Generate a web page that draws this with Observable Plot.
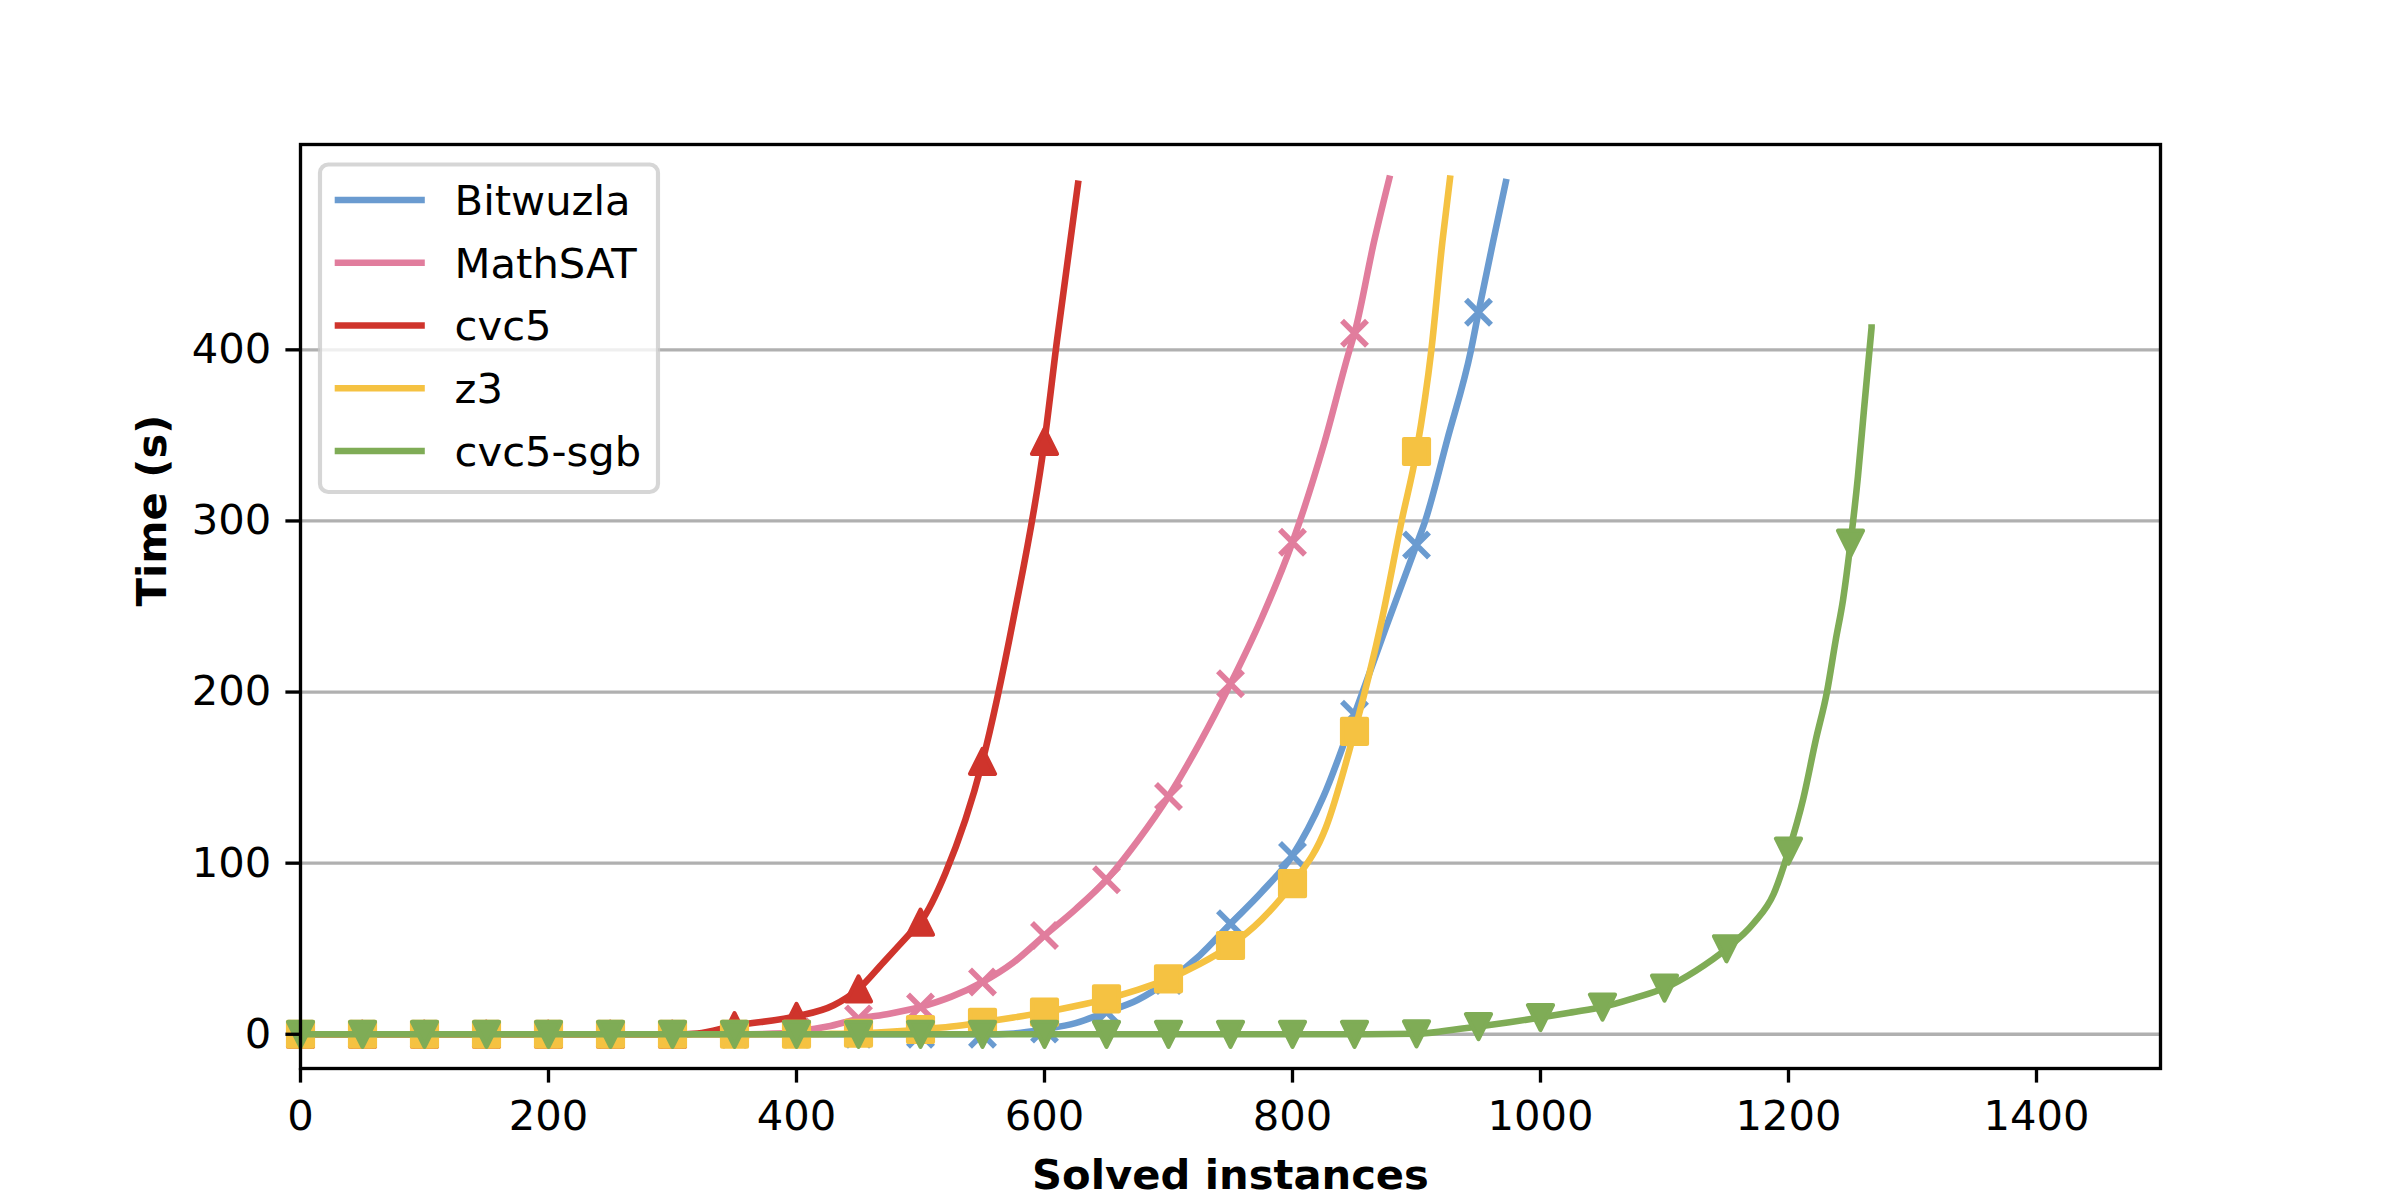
<!DOCTYPE html>
<html>
<head>
<meta charset="utf-8">
<script src="https://cdn.jsdelivr.net/npm/d3@7"></script>
<script src="https://cdn.jsdelivr.net/npm/@observablehq/plot@0.6"></script>
<style>
  html, body { margin: 0; padding: 0; background: #ffffff; overflow: hidden; }
  #chart svg { display: block; }
</style>
</head>
<body>
<div id="chart"></div>
<script>
// ---- Data ----
const seriesNames = ["Bitwuzla", "MathSAT", "cvc5", "z3", "cvc5-sgb"];
const seriesColors = ["#6a9bd0", "#e17d9d", "#cf342c", "#f5c242", "#7fac56"];

const bitwuzlaX = [0,50,100,150,200,250,300,350,400,450,500,550,575,600,625,650,675,700,725,750,775,800,825,850,875,900,907,925,944,950,962,972];
const bitwuzlaY = [0,0,0,0,0,0,0,0,0,0,0,0,0.5,3,6.5,13,20,31.4,46,64.6,83,104.5,139,187,237,286,300,348,400,422,464,498];

const mathsatX = [0,50,100,150,200,250,300,350,390,400,425,450,475,500,525,550,575,600,625,650,675,700,725,750,775,800,825,846,850,866,878];
const mathsatY = [0,0,0,0,0,0,0,0,0.5,1.5,4.5,9,12,16,22,30.5,42,57.7,73,90.3,113,139,170,204.8,243,287.6,344,400,409.7,464,500];

const cvc5X = [0,50,100,150,200,250,300,320,350,400,430,450,470,490,500,520,550,575,600,610,627];
const cvc5Y = [0,0,0,0,0,0,0,0.5,5,10.5,17,26.5,42,57.7,65.5,94,159.5,243,346.5,405,497];

const z3X = [0,50,100,150,200,250,300,350,400,425,450,475,500,525,550,575,600,625,650,675,700,725,750,775,800,827,850,872,888,900,912,921,927];
const z3Y = [0,0,0,0,0,0,0,0,0,0.2,0.6,1.5,2.8,4.5,7,9.8,12.9,16.5,20.7,26,32.4,41,51.9,67,88,121,177,242,300,340.6,400,464,500];

const sgbX = [0,50,100,150,200,250,300,350,400,450,500,550,600,650,700,750,800,850,900,925,950,975,1000,1025,1050,1075,1100,1125,1150,1172,1188,1200,1212,1222,1231,1238,1244,1250,1256,1261,1267];
const sgbY = [0,0,0,0,0,0,0,0,0,0,0,0,0,0,0,0,0,0,0.3,2.2,4.5,7,9.8,12.8,15.9,21,27,37,50,65,82,107,138,172,200,230,254,287,326,366,413];

const xTicks = [0, 200, 400, 600, 800, 1000, 1200, 1400];
const yTicks = [0, 100, 200, 300, 400];
const xLabel = "Solved instances";
const yLabel = "Time (s)";

// ---- Marker shapes (matplotlib-like, centred on the bounding box) ----
const symSquare = {draw(c, size) { const h = Math.sqrt(size / Math.PI); c.moveTo(-h, -h); c.lineTo(h, -h); c.lineTo(h, h); c.lineTo(-h, h); c.closePath(); }};
const symX = {draw(c, size) { const h = Math.sqrt(size / Math.PI); c.moveTo(-h, -h); c.lineTo(h, h); c.moveTo(-h, h); c.lineTo(h, -h); }};
const symTriUp = {draw(c, size) { const h = Math.sqrt(size / Math.PI); c.moveTo(0, -h); c.lineTo(h, h); c.lineTo(-h, h); c.closePath(); }};
const symTriDown = {draw(c, size) { const h = Math.sqrt(size / Math.PI); c.moveTo(0, h); c.lineTo(-h, -h); c.lineTo(h, -h); c.closePath(); }};

const seriesXs = [bitwuzlaX, mathsatX, cvc5X, z3X, sgbX];
const seriesYs = [bitwuzlaY, mathsatY, cvc5Y, z3Y, sgbY];
const seriesSymbols = [symX, symX, symTriUp, symSquare, symTriDown];
const seriesFilled = [false, false, true, true, true];

const FONT = "DejaVu Sans";
const FS = 41.67;
const LW = 6.6;      // ~1.5pt at 300 dpi
const THIN = 3.33;   // 0.8pt at 300 dpi

const seriesMarks = [];
seriesNames.forEach((name, k) => {
  const rows = seriesXs[k].map((x, i) => ({x, y: seriesYs[k][i]}));
  const color = seriesColors[k];
  seriesMarks.push(Plot.line(rows, {x: "x", y: "y", curve: "monotone-x", stroke: color, strokeWidth: LW, strokeLinejoin: "round", strokeLinecap: "square"}));
  const markerRows = rows.filter(d => d.x % 50 === 0);
  seriesMarks.push(Plot.dot(markerRows, {
    x: "x", y: "y", r: 12.5, symbol: seriesSymbols[k],
    fill: seriesFilled[k] ? color : "none",
    stroke: color,
    strokeWidth: seriesFilled[k] ? 4.17 : 5.6,
    strokeLinejoin: seriesFilled[k] ? "round" : "miter",
    strokeLinecap: "butt"
  }));
});

const chart = Plot.plot({
  width: 2400,
  height: 1200,
  marginLeft: 300,
  marginRight: 240,
  marginTop: 144,
  marginBottom: 132,
  style: {fontFamily: FONT, fontSize: FS + "px", background: "#ffffff", color: "#000000"},
  x: {domain: [0, 1500]},
  y: {domain: [-20, 520]},
  marks: [
    Plot.gridY(yTicks, {stroke: "#b0b0b0", strokeOpacity: 1, strokeWidth: THIN}),
    ...seriesMarks,
    Plot.frame({stroke: "#000000", strokeWidth: THIN}),
    Plot.axisX(xTicks, {tickSize: 14.6, tickPadding: 17.5, stroke: "#000000", strokeWidth: THIN, fill: "#000000", fontSize: FS, tickFormat: d => String(d), label: null}),
    Plot.axisY(yTicks, {tickSize: 14.6, tickPadding: 14.6, stroke: "#000000", strokeWidth: THIN, fill: "#000000", fontSize: FS, tickFormat: d => String(d), label: null}),
    Plot.text([xLabel], {text: d => d, frameAnchor: "bottom", lineAnchor: "bottom", dy: 120.3, fontSize: FS, fontWeight: "bold", fill: "#000000"}),
    Plot.text([yLabel], {text: d => d, frameAnchor: "left", lineAnchor: "bottom", rotate: -90, dx: -135, fontSize: FS, fontWeight: "bold", fill: "#000000"})
  ]
});

document.getElementById("chart").appendChild(chart);

// ---- Legend (upper left, lines only, like matplotlib) ----
const svg = d3.select(chart);
const lg = svg.append("g").attr("font-family", FONT).attr("font-size", FS).attr("text-anchor", "start");
lg.append("rect")
  .attr("x", 320).attr("y", 164.5).attr("width", 338).attr("height", 327.5)
  .attr("rx", 8.3).attr("ry", 8.3)
  .attr("fill", "#ffffff").attr("fill-opacity", 0.8)
  .attr("stroke", "#cccccc").attr("stroke-opacity", 0.8).attr("stroke-width", 4.17);
seriesNames.forEach((name, k) => {
  const yy = 200 + k * 62.75;
  lg.append("line")
    .attr("x1", 338).attr("x2", 421.5).attr("y1", yy).attr("y2", yy)
    .attr("stroke", seriesColors[k]).attr("stroke-width", LW).attr("stroke-linecap", "square");
  lg.append("text")
    .attr("x", 454.6).attr("y", yy + 14.8)
    .attr("text-anchor", "start")
    .attr("fill", "#000000")
    .text(name);
});
</script>
</body>
</html>
